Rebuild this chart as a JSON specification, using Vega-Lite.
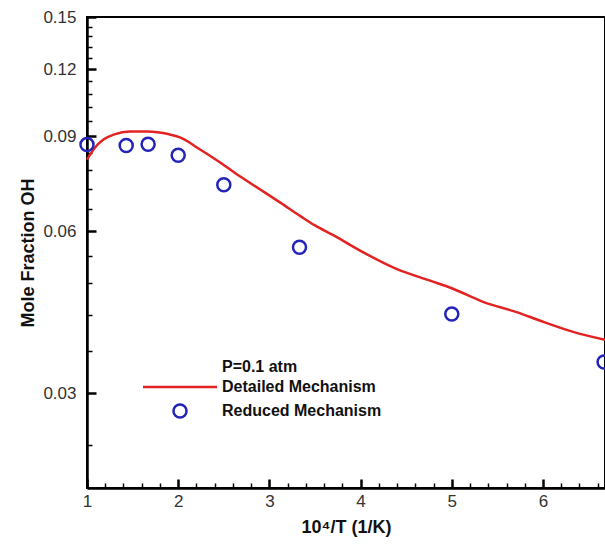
{
  "$schema": "https://vega.github.io/schema/vega-lite/v6.json",
  "width": 518,
  "height": 471,
  "autosize": {"type": "none"},
  "padding": {"left": 87, "top": 17, "right": 0, "bottom": 57},
  "background": "white",
  "config": {
    "view": {"stroke": "black", "strokeWidth": 2},
    "font": "Liberation Sans",
    "axis": {
      "domainColor": "black",
      "domainWidth": 2.5,
      "tickColor": "black",
      "grid": false,
      "labelFont": "Liberation Sans",
      "labelFontSize": 17,
      "labelColor": "#333333",
      "labelFlush": false,
      "labelOverlap": false,
      "titleFont": "Liberation Sans",
      "titleFontSize": 18,
      "titleFontWeight": "bold",
      "titleColor": "#111111"
    }
  },
  "datasets": {
    "detailed": [
      {"x": 1.0, "y": 0.0815, "series": "Detailed Mechanism"},
      {"x": 1.08, "y": 0.0855, "series": "Detailed Mechanism"},
      {"x": 1.18, "y": 0.0888, "series": "Detailed Mechanism"},
      {"x": 1.3, "y": 0.0908, "series": "Detailed Mechanism"},
      {"x": 1.47, "y": 0.0919, "series": "Detailed Mechanism"},
      {"x": 1.66, "y": 0.0919, "series": "Detailed Mechanism"},
      {"x": 1.9, "y": 0.0908, "series": "Detailed Mechanism"},
      {"x": 2.02, "y": 0.0896, "series": "Detailed Mechanism"},
      {"x": 2.24, "y": 0.0851, "series": "Detailed Mechanism"},
      {"x": 2.46, "y": 0.0805, "series": "Detailed Mechanism"},
      {"x": 2.68, "y": 0.0758, "series": "Detailed Mechanism"},
      {"x": 2.9, "y": 0.0717, "series": "Detailed Mechanism"},
      {"x": 3.12, "y": 0.0678, "series": "Detailed Mechanism"},
      {"x": 3.34, "y": 0.064, "series": "Detailed Mechanism"},
      {"x": 3.5, "y": 0.0615, "series": "Detailed Mechanism"},
      {"x": 3.7, "y": 0.059, "series": "Detailed Mechanism"},
      {"x": 4.03, "y": 0.0548, "series": "Detailed Mechanism"},
      {"x": 4.4, "y": 0.051, "series": "Detailed Mechanism"},
      {"x": 4.77, "y": 0.0485, "series": "Detailed Mechanism"},
      {"x": 5.0, "y": 0.047, "series": "Detailed Mechanism"},
      {"x": 5.35, "y": 0.0443, "series": "Detailed Mechanism"},
      {"x": 5.72, "y": 0.0424, "series": "Detailed Mechanism"},
      {"x": 5.97, "y": 0.0409, "series": "Detailed Mechanism"},
      {"x": 6.33, "y": 0.039, "series": "Detailed Mechanism"},
      {"x": 6.68, "y": 0.0377, "series": "Detailed Mechanism"}
    ],
    "reduced": [
      {"x": 1.0, "y": 0.0869, "series": "Reduced Mechanism"},
      {"x": 1.43, "y": 0.0866, "series": "Reduced Mechanism"},
      {"x": 1.67, "y": 0.087, "series": "Reduced Mechanism"},
      {"x": 2.0, "y": 0.083, "series": "Reduced Mechanism"},
      {"x": 2.5, "y": 0.0732, "series": "Reduced Mechanism"},
      {"x": 3.33, "y": 0.056, "series": "Reduced Mechanism"},
      {"x": 5.0, "y": 0.0421, "series": "Reduced Mechanism"},
      {"x": 6.67, "y": 0.0343, "series": "Reduced Mechanism"}
    ]
  },
  "encoding": {
    "x": {
      "field": "x",
      "type": "quantitative",
      "scale": {"domain": [1, 6.68], "nice": false, "zero": false},
      "axis": {
        "title": "10⁴/T (1/K)",
        "values": [1, 1.2, 1.4, 1.6, 1.8, 2, 2.2, 2.4, 2.6, 2.8, 3, 3.2, 3.4, 3.6, 3.8, 4, 4.2, 4.4, 4.6, 4.8, 5, 5.2, 5.4, 5.6, 5.8, 6, 6.2, 6.4, 6.6],
        "labelExpr": "abs(datum.value - round(datum.value)) < 0.001 ? format(datum.value, 'd') : ''",
        "tickSize": {"condition": {"test": "abs(datum.value - round(datum.value)) < 0.001", "value": -9}, "value": -5},
        "tickWidth": {"condition": {"test": "abs(datum.value - round(datum.value)) < 0.001", "value": 2.5}, "value": 1.5},
        "labelPadding": 14,
        "titlePadding": 5
      }
    },
    "y": {
      "field": "y",
      "type": "quantitative",
      "scale": {"type": "log", "domain": [0.02, 0.15], "nice": false},
      "axis": {
        "title": "Mole Fraction OH",
        "values": [0.024, 0.03, 0.036, 0.042, 0.048, 0.054, 0.06, 0.066, 0.072, 0.078, 0.084, 0.09, 0.096, 0.102, 0.108, 0.114, 0.12, 0.126, 0.132, 0.138, 0.144, 0.15],
        "labelExpr": "abs(datum.value / 0.03 - round(datum.value / 0.03)) < 0.01 ? format(datum.value, '.2f') : ''",
        "tickSize": {"condition": {"test": "abs(datum.value / 0.03 - round(datum.value / 0.03)) < 0.01", "value": -9}, "value": -5},
        "tickWidth": {"condition": {"test": "abs(datum.value / 0.03 - round(datum.value / 0.03)) < 0.01", "value": 2.5}, "value": 1.5},
        "labelPadding": 20,
        "titlePadding": 5
      }
    },
    "color": {
      "field": "series",
      "type": "nominal",
      "scale": {
        "domain": ["P=0.1 atm", "Detailed Mechanism", "Reduced Mechanism"],
        "range": ["#ffffff", "#e32222", "#2424b8"]
      },
      "legend": {
        "title": null,
        "orient": "none",
        "legendX": 85,
        "legendY": 342,
        "symbolSize": 196,
        "labelOffset": 34,
        "labelFont": "Liberation Sans",
        "labelFontSize": 16,
        "labelFontWeight": "bold",
        "labelColor": "#111111",
        "rowPadding": 4,
        "encode": {
          "symbols": {
            "update": {
              "shape": {"signal": "datum.value === 'Detailed Mechanism' ? 'stroke' : 'circle'"},
              "size": {"signal": "datum.value === 'Detailed Mechanism' ? 5476 : 170"},
              "opacity": {"signal": "datum.value === 'P=0.1 atm' ? 0 : 1"},
              "fill": {"value": "transparent"},
              "strokeWidth": {"value": 2.5}
            }
          }
        }
      }
    }
  },
  "layer": [
    {
      "data": {"name": "detailed"},
      "mark": {"type": "line", "strokeWidth": 2.5, "interpolate": "monotone"}
    },
    {
      "data": {"name": "reduced"},
      "mark": {"type": "point", "shape": "circle", "filled": false, "size": 170, "strokeWidth": 2.5, "opacity": 1}
    }
  ]
}
